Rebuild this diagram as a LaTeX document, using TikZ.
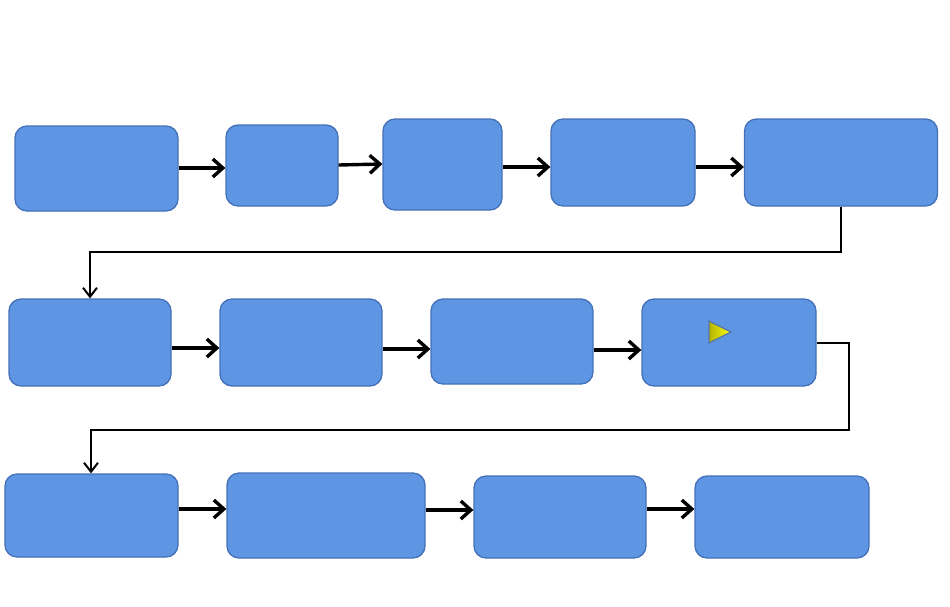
\documentclass[tikz,border=0pt]{standalone}
\usetikzlibrary{arrows.meta}
\definecolor{boxfill}{HTML}{5F96E4}
\definecolor{boxline}{HTML}{4470B8}
\begin{document}
\begin{tikzpicture}[x=1pt,y=-1pt,
  blk/.style={draw=boxline,fill=boxfill,line width=1.3pt,rounded corners=12pt,inner sep=0},
  flow/.style={line width=3.4pt,-{Straight Barb[length=10pt,width=18pt,line width=3.4pt]}},
  link/.style={line width=2pt,-{Straight Barb[length=9pt,width=14pt,line width=2pt]}}]
\useasboundingbox (0,0) rectangle (950,606);
\node[blk,minimum width=163pt,minimum height=85pt] (A1) at (96.5,168.5) {};
\node[blk,minimum width=112pt,minimum height=81pt] (A2) at (282,165.5) {};
\node[blk,minimum width=119pt,minimum height=91pt] (A3) at (442.5,164.5) {};
\node[blk,minimum width=144pt,minimum height=87pt] (A4) at (623,162.5) {};
\node[blk,minimum width=193pt,minimum height=87pt] (A5) at (841,162.5) {};
\node[blk,minimum width=162pt,minimum height=87pt] (B1) at (90,342.5) {};
\node[blk,minimum width=162pt,minimum height=87pt] (B2) at (301,342.5) {};
\node[blk,minimum width=162pt,minimum height=85pt] (B3) at (512,341.5) {};
\node[blk,minimum width=174pt,minimum height=87pt] (B4) at (729,342.5) {};
\node[blk,minimum width=173pt,minimum height=83pt] (C1) at (91.5,515.5) {};
\node[blk,minimum width=198pt,minimum height=85pt] (C2) at (326,515.5) {};
\node[blk,minimum width=172pt,minimum height=82pt] (C3) at (560,517) {};
\node[blk,minimum width=174pt,minimum height=82pt] (C4) at (782,517) {};
\shade[left color=yellow!70!black,right color=yellow!90!white,draw=boxline!70!gray,line width=1.2pt]
  (709,321) -- (731,332) -- (709,343) -- cycle;
\draw[flow] (A1.east |- 0,168) -- (A2.west |- 0,168);
\draw[flow] (A2.east |- 0,165) -- (A3.west |- 0,164);
\draw[flow] (A3.east |- 0,167) -- (A4.west |- 0,167);
\draw[flow] (A4.east |- 0,167) -- (A5.west |- 0,167);
\draw[link] (A5.south) -- (841,252) -- (90,252) -- (B1.north);
\draw[flow] (B1.east |- 0,348) -- (B2.west |- 0,348);
\draw[flow] (B2.east |- 0,349) -- (B3.west |- 0,349);
\draw[flow] (B3.east |- 0,350) -- (B4.west |- 0,350);
\draw[link] (B4.east |- 0,343) -- (849,343) -- (849,430) -- (91,430) -- (C1.north -| 91,0);
\draw[flow] (C1.east |- 0,509) -- (C2.west |- 0,509);
\draw[flow] (C2.east |- 0,510) -- (C3.west |- 0,510);
\draw[flow] (C3.east |- 0,509) -- (C4.west |- 0,509);
\end{tikzpicture}
\end{document}
